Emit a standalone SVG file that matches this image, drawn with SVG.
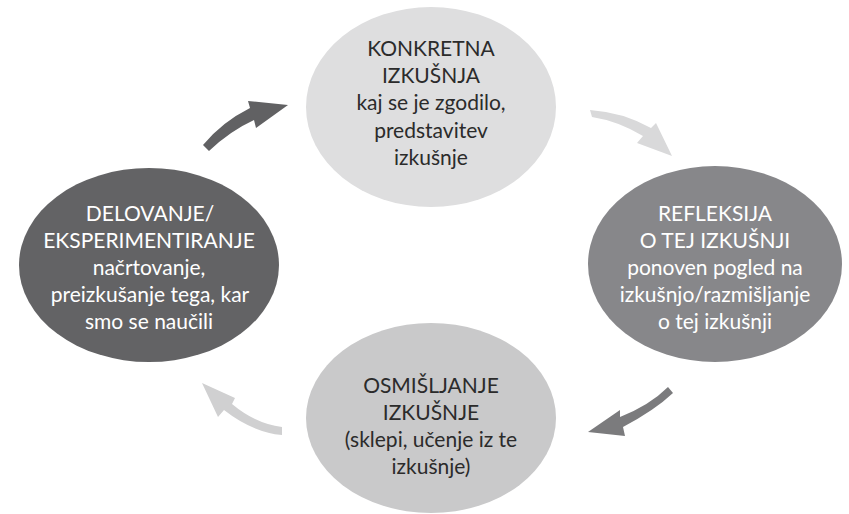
<svg xmlns="http://www.w3.org/2000/svg" width="849" height="514" viewBox="0 0 849 514">
<style>
text{font-family:Lato,"Liberation Sans",sans-serif;font-size:21px;text-anchor:middle}
.dk{fill:#2b2b2b}
.wt{fill:#ffffff}
</style>
<rect width="849" height="514" fill="#ffffff"/>
<g id="connectors">
<path d="M203,145 Q222,122 250,108 L248,101 L288,105 L256,128 L254,120 Q230,131 209,151 Z" fill="#616163"/>
<path d="M590,110 Q622,112 651,128 L656,123 L672,156 L637,143 L643,136 Q618,121 592,117 Z" fill="#d9d9da"/>
<path d="M668,387 Q650,405 620,417 L620,410 L588,432 L625,436 L623,427 Q655,410 673,393 Z" fill="#7b7b7d"/>
<path d="M282,427 Q256,424 232,404 L235,398 L202,383 L218,417 L224,410 Q252,432 282,435 Z" fill="#d0d0d1"/>
</g>
<g id="node-konkretna">
<ellipse cx="431" cy="107" rx="125" ry="100" fill="#dededf"/>
<text class="dk" x="431" y="56">KONKRETNA</text>
<text class="dk" x="431" y="83">IZKUŠNJA</text>
<text class="dk" x="431" y="110">kaj se je zgodilo,</text>
<text class="dk" x="431" y="138">predstavitev</text>
<text class="dk" x="431" y="165">izkušnje</text>
</g>
<g id="node-refleksija">
<ellipse cx="715" cy="264" rx="127" ry="98" fill="#87878a"/>
<text class="wt" x="715" y="221">REFLEKSIJA</text>
<text class="wt" x="715" y="248">O TEJ IZKUŠNJI</text>
<text class="wt" x="715" y="275">ponoven pogled na</text>
<text class="wt" x="715" y="302">izkušnjo/razmišljanje</text>
<text class="wt" x="715" y="329">o tej izkušnji</text>
</g>
<g id="node-osmisljanje">
<ellipse cx="431" cy="418" rx="125" ry="95" fill="#c9c9ca"/>
<text class="dk" x="431" y="393">OSMIŠLJANJE</text>
<text class="dk" x="431" y="420">IZKUŠNJE</text>
<text class="dk" x="431" y="447">(sklepi, učenje iz te</text>
<text class="dk" x="431" y="474">izkušnje)</text>
</g>
<g id="node-delovanje">
<ellipse cx="149" cy="265" rx="130" ry="97" fill="#636365"/>
<text class="wt" x="150" y="221">DELOVANJE/</text>
<text class="wt" x="149" y="248">EKSPERIMENTIRANJE</text>
<text class="wt" x="149" y="275">načrtovanje,</text>
<text class="wt" x="150" y="302">preizkušanje tega, kar</text>
<text class="wt" x="149" y="329">smo se naučili</text>
</g>
</svg>
